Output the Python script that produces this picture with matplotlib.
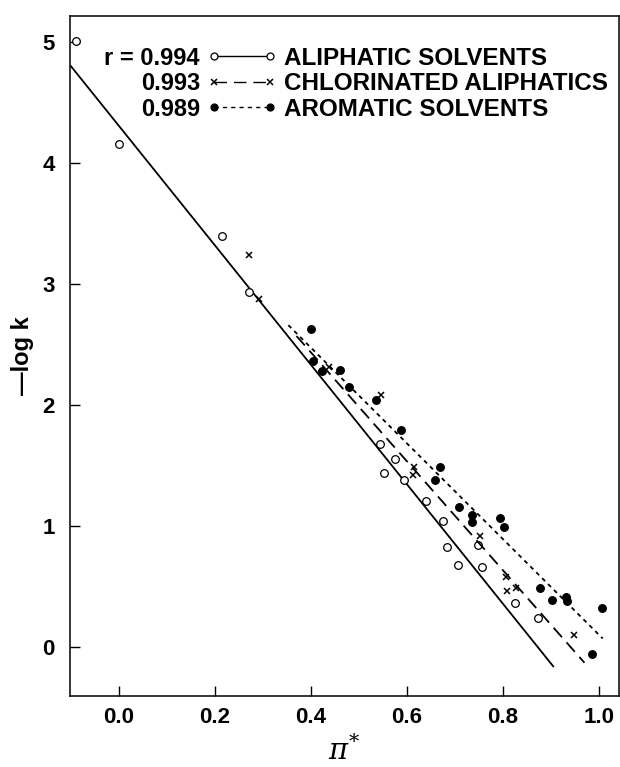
import matplotlib
matplotlib.use("Agg")
import matplotlib.pyplot as plt
from matplotlib.lines import Line2D

plt.rcParams['font.family'] = ['Liberation Sans', 'DejaVu Sans']
plt.rcParams['font.weight'] = 'bold'
plt.rcParams['mathtext.fontset'] = 'custom'
plt.rcParams['mathtext.it'] = 'DejaVu Serif:italic:normal'
plt.rcParams['mathtext.rm'] = 'DejaVu Serif:normal'
plt.rcParams['lines.scale_dashes'] = False

# open circles: aliphatic solvents
aliphatic_x = [-0.09, 0.00, 0.215, 0.27, 0.544, 0.553, 0.576, 0.593, 0.640,
               0.676, 0.684, 0.706, 0.749, 0.756, 0.825, 0.874]
aliphatic_y = [5.01, 4.16, 3.40, 2.93, 1.68, 1.44, 1.55, 1.38, 1.21,
               1.04, 0.83, 0.68, 0.84, 0.66, 0.36, 0.24]

# crosses: chlorinated aliphatics
chlorinated_x = [0.272, 0.292, 0.438, 0.546, 0.615, 0.613, 0.753, 0.806, 0.809, 0.828, 0.949]
chlorinated_y = [3.24, 2.88, 2.31, 2.08, 1.49, 1.42, 0.92, 0.58, 0.46, 0.49, 0.10]

# filled circles: aromatic solvents
aromatic_x = [0.400, 0.405, 0.424, 0.461, 0.479, 0.535, 0.587, 0.658, 0.669, 0.709,
              0.736, 0.735, 0.794, 0.803, 0.877, 0.903, 0.931, 0.933, 1.007, 0.985]
aromatic_y = [2.63, 2.36, 2.28, 2.29, 2.15, 2.04, 1.79, 1.38, 1.49, 1.16,
              1.09, 1.03, 1.07, 0.99, 0.49, 0.39, 0.41, 0.38, 0.32, -0.06]

# regression line end points
aliphatic_fit_x = [-0.10, 0.905]
aliphatic_fit_y = [4.80, -0.16]
chlorinated_fit_x = [0.37, 0.97]
chlorinated_fit_y = [2.57, -0.13]
aromatic_fit_x = [0.353, 1.008]
aromatic_fit_y = [2.66, 0.07]

r_values = ["r = 0.994", "0.993", "0.989"]
series_labels = ["ALIPHATIC SOLVENTS", "CHLORINATED ALIPHATICS", "AROMATIC SOLVENTS"]
x_ticks = [0.0, 0.2, 0.4, 0.6, 0.8, 1.0]
y_ticks = [0, 1, 2, 3, 4, 5]

W, H = 620, 767
fig = plt.figure(figsize=(W / 100, H / 100), dpi=100)
ax = fig.add_axes([70 / W, 71 / H, 549 / W, 680 / H])

long_dash = (0, (9, 5))
short_dash = (0, (3, 3))
styles = [
    dict(ls='-', marker='o', mfc='white', ms=5.5, mew=0.9),
    dict(ls=long_dash, marker='x', mfc='black', ms=4.5, mew=1.1),
    dict(ls=short_dash, marker='o', mfc='black', ms=5.5, mew=0.9),
]

fits = [(aliphatic_fit_x, aliphatic_fit_y),
        (chlorinated_fit_x, chlorinated_fit_y),
        (aromatic_fit_x, aromatic_fit_y)]
points = [(aliphatic_x, aliphatic_y),
          (chlorinated_x, chlorinated_y),
          (aromatic_x, aromatic_y)]

handles = []
for (fx, fy), (px, py), st in zip(fits, points, styles):
    ax.plot(fx, fy, color='black', ls=st['ls'], lw=1.3)
    ax.plot(px, py, ls='none', color='black', marker=st['marker'],
            mfc=st['mfc'], mec='black', ms=st['ms'], mew=st['mew'])
    handles.append(Line2D([], [], color='black', ls=st['ls'], lw=1.0,
                          marker=st['marker'], mfc=st['mfc'], mec='black',
                          ms=st['ms'] - 0.5, mew=st['mew']))

ax.set_xlim(-0.102, 1.042)
ax.set_ylim(-0.405, 5.215)
ax.set_xticks(x_ticks)
ax.set_xticklabels([f"{t:.1f}" for t in x_ticks])
ax.set_yticks(y_ticks)
ax.set_yticklabels([str(t) for t in y_ticks])
ax.tick_params(direction='in', length=7, width=1, labelsize=16)
ax.tick_params(axis='x', pad=8)
ax.tick_params(axis='y', pad=11)
for sp in ax.spines.values():
    sp.set_linewidth(1.1)

ax.set_ylabel("—log k", fontsize=17, fontweight='bold')
ax.yaxis.set_label_coords(-0.066, 0.5)
ax.set_xlabel(r"$\mathit{\pi}^{*}$", fontsize=21, fontweight='normal')
ax.xaxis.set_label_coords(0.5, -0.058)

leg = ax.legend(handles, series_labels, loc='upper left',
                bbox_to_anchor=(207 / W, 1 - 47 / H), bbox_transform=fig.transFigure,
                frameon=False, numpoints=2, handlelength=2.9, handletextpad=0.25,
                labelspacing=0.1, borderpad=0, borderaxespad=0,
                prop={'weight': 'bold', 'size': 17.5})

# put the r values to the left of each legend row
fig.canvas.draw()
for txt, rv in zip(leg.get_texts(), r_values):
    bb = txt.get_window_extent()
    fig.text(200 / W, bb.y0 / H, rv, ha='right', va='bottom',
             fontsize=17, fontweight='bold')

fig.savefig("out.png", dpi=100)
